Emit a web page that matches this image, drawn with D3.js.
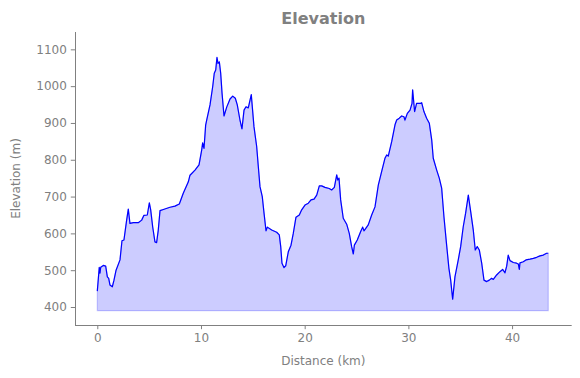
<!DOCTYPE html>
<html><head><meta charset="utf-8">
<script src="https://cdn.jsdelivr.net/npm/d3@7"></script>
<style>body{margin:0;background:#fff}svg{display:block}text{font-family:"DejaVu Sans",sans-serif;fill:#808080}</style>
</head><body><svg id="c" width="580" height="378"></svg>
<script>
const distance = [0,0.19,0.26,0.33,0.58,0.81,0.97,1.1,1.22,1.45,1.61,1.8,2.19,2.38,2.57,2.83,2.99,3.15,3.47,3.95,4.28,4.5,4.82,5.02,5.15,5.34,5.56,5.72,5.88,6.05,6.37,7.01,7.49,7.91,8.29,8.78,8.94,9.42,9.81,10.07,10.16,10.29,10.45,10.55,10.87,11.13,11.28,11.42,11.54,11.64,11.77,11.9,12.03,12.22,12.48,12.8,13.06,13.31,13.5,13.76,13.95,14.15,14.34,14.56,14.73,14.85,15.11,15.37,15.53,15.69,15.91,16.08,16.27,16.4,16.82,17.3,17.55,17.69,17.81,18.0,18.17,18.42,18.68,18.9,19.16,19.48,19.71,20.03,20.35,20.61,20.9,21.16,21.41,21.64,21.96,22.37,22.6,22.86,23.09,23.19,23.31,23.47,23.72,24.05,24.3,24.53,24.69,24.79,25.07,25.4,25.59,25.72,26.13,26.46,26.78,27.1,27.42,27.74,27.91,28.06,28.39,28.71,28.87,29.12,29.35,29.57,29.67,29.9,30.16,30.35,30.41,30.6,30.79,31.12,31.28,31.5,31.76,32.02,32.25,32.4,32.73,32.98,33.21,33.43,33.69,33.91,34.08,34.27,34.49,34.81,35.04,35.29,35.52,35.78,36.01,36.26,36.45,36.64,36.84,37.07,37.29,37.55,37.8,38.03,38.19,38.51,38.83,39.09,39.31,39.48,39.63,39.8,40.12,40.44,40.6,40.7,40.76,41.08,41.34,41.73,42.05,42.37,42.69,43.01,43.33,43.49];
const elevation = [443,508,492,508,513,511,482,478,460,455,473,499,528,580,582,636,666,627,629,629,636,649,650,683,664,618,577,575,609,662,665,671,674,680,709,740,758,772,786,827,846,831,894,908,949,999,1035,1044,1078,1062,1066,1035,981,919,943,965,973,967,949,908,884,935,944,941,962,977,890,836,781,727,700,655,607,617,609,603,596,564,519,507,512,550,568,600,644,650,664,677,682,691,693,704,729,729,725,722,718,725,759,745,750,691,641,625,600,564,544,568,582,605,617,607,623,650,672,731,768,804,813,810,849,895,908,913,919,917,908,926,935,953,990,931,953,953,955,931,913,899,854,804,772,750,723,645,568,505,473,421,482,528,564,618,655,704,659,609,555,564,555,519,473,469,473,478,475,487,496,502,493,511,541,526,521,519,517,502,520,523,528,530,532,535,539,541,546,546];
const xTicks = [0,10,20,30,40];
const yTicks = [400,500,600,700,800,900,1000,1100];
const fillBase = 390;
const title = "Elevation";
const xLabel = "Distance (km)";
const yLabel = "Elevation (m)";

const data = distance.map((d,i)=>({d, e: elevation[i]}));
const svg = d3.select("#c");
const L=75, R=571.7, T=32, B=325;
const x = d3.scaleLinear().domain([-2.15,45.75]).range([L,R]);
const y = d3.scaleLinear().domain([351.1,1147.1]).range([B,T]);

svg.append("path").datum(data)
  .attr("d", d3.area().x(p=>x(p.d)).y0(y(fillBase)).y1(p=>y(p.e)))
  .attr("fill","rgba(0,0,255,0.2)").attr("stroke","rgba(0,0,255,0.2)").attr("stroke-width",1.2);
svg.append("path").datum(data)
  .attr("d", d3.line().x(p=>x(p.d)).y(p=>y(p.e)))
  .attr("fill","none").attr("stroke","#0000ff").attr("stroke-width",1.2).attr("stroke-linejoin","round");

const gx = svg.append("g").attr("transform",`translate(0,${B})`)
  .call(d3.axisBottom(x).tickValues(xTicks).tickFormat(d3.format("d")).tickSizeOuter(0).tickSize(4.2).tickPadding(4));
const gy = svg.append("g").attr("transform",`translate(${L},0)`)
  .call(d3.axisLeft(y).tickValues(yTicks).tickFormat(d3.format("d")).tickSizeOuter(0).tickSize(4.2).tickPadding(4));
[gx,gy].forEach(g=>{
  g.select(".domain").attr("stroke","#808080").attr("stroke-width",1);
  g.selectAll(".tick line").attr("stroke","#808080").attr("stroke-width",1);
  g.selectAll(".tick text").attr("fill","#808080").style("font-size","12px").style("font-family","DejaVu Sans");
});
gx.select(".domain").attr("d",`M${L},0.5H${R}`);
gy.select(".domain").attr("d",`M0.5,${T}V${B}`);

svg.append("text").attr("x",(L+R)/2).attr("y",24).attr("text-anchor","middle")
  .style("font-size","16px").style("font-weight","bold").text(title);
svg.append("text").attr("x",(L+R)/2).attr("y",365).attr("text-anchor","middle")
  .style("font-size","12px").text(xLabel);
svg.append("text").attr("transform",`translate(20,${(T+B)/2}) rotate(-90)`).attr("text-anchor","middle")
  .style("font-size","12px").text(yLabel);
</script></body></html>
